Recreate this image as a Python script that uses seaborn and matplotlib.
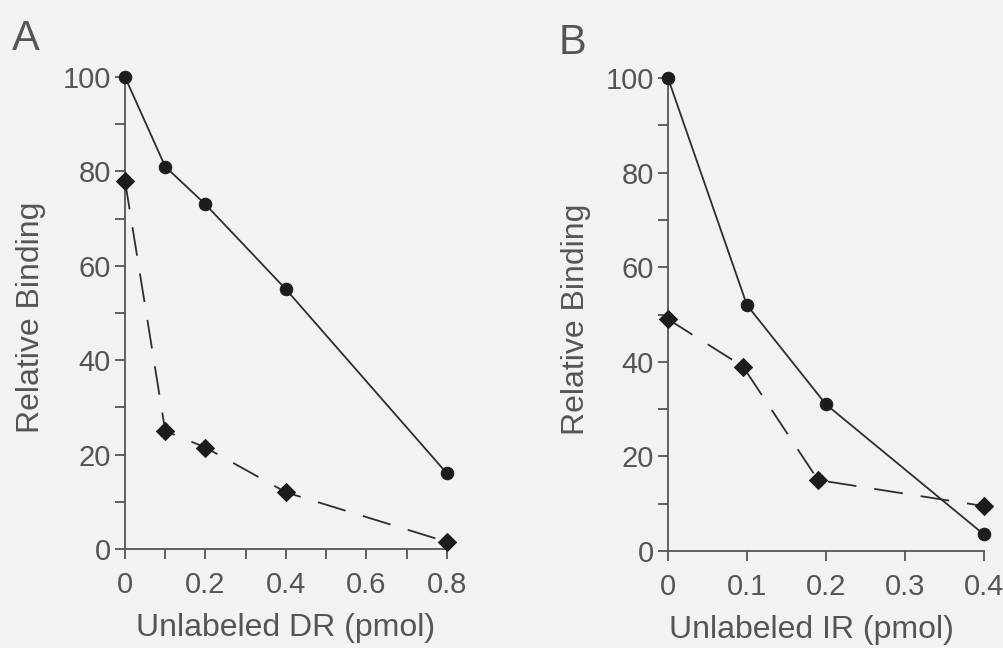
import numpy as np
import pandas as pd
import matplotlib
matplotlib.use("Agg")
import matplotlib.pyplot as plt
from matplotlib.ticker import MultipleLocator
import seaborn as sns

# ── Data ───────────────────────────────────────────────────
dr_dose     = [0, 0.1, 0.2, 0.4, 0.8]
dr_circle   = [100, 81, 73, 55, 16]
dr_diamond  = [78, 25, 21.5, 12, 1.5]

ir_dose_circle  = [0, 0.1, 0.2, 0.4]
ir_circle       = [100, 52, 31, 3.5]
ir_dose_diamond = [0, 0.095, 0.19, 0.4]
ir_diamond      = [49, 39, 15, 9.5]

# ── Style ──────────────────────────────────────────────────
sns.set_theme(style="ticks")
plt.rcParams["font.family"] = ["Liberation Sans", "DejaVu Sans"]

BG    = "#f3f2f1"
TEXT  = "#555555"
LINE  = "#2e2e2e"
MARK  = "#1c1c1c"

fig = plt.figure(figsize=(10.04, 6.48), dpi=100, facecolor=BG)
ax_a = fig.add_axes([0.1245, 0.1528, 0.3207, 0.7284])
ax_b = fig.add_axes([0.6653, 0.1497, 0.3147, 0.7299])


def draw_series(ax, x, y, marker, size, dashed):
    df = pd.DataFrame({"x": x, "y": y})
    kw = dict(linestyle=(0, (16, 10))) if dashed else dict(linestyle="-")
    sns.lineplot(data=df, x="x", y="y", ax=ax, sort=False, color=LINE,
                 linewidth=1.3, marker=marker, markersize=size,
                 markerfacecolor=MARK, markeredgecolor=MARK,
                 clip_on=False, zorder=3, **kw)


def style_axes(ax, xmax, xmajor, xminor, xlabel, xlabel_x):
    ax.set_facecolor(BG)
    ax.set_xlim(0, xmax)
    ax.set_ylim(0, 100)
    sns.despine(ax=ax)
    for s in ("left", "bottom"):
        ax.spines[s].set_color(TEXT)
        ax.spines[s].set_linewidth(1.3)
    ax.xaxis.set_major_locator(MultipleLocator(xmajor))
    ax.xaxis.set_minor_locator(MultipleLocator(xminor))
    ax.yaxis.set_major_locator(MultipleLocator(20))
    ax.yaxis.set_minor_locator(MultipleLocator(10))
    ax.xaxis.set_major_formatter(plt.FuncFormatter(lambda v, p: f"{v:g}"))
    ax.tick_params(which="both", direction="out", length=7, width=1.3,
                   color=TEXT, labelcolor=TEXT, labelsize=21)
    ax.tick_params(axis="y", pad=3)
    ax.tick_params(axis="x", pad=9)
    ax.set_xlabel(xlabel, fontsize=23, color=TEXT)
    ax.set_ylabel("Relative Binding", fontsize=23, color=TEXT)
    ax.xaxis.set_label_coords(xlabel_x, -0.136)
    ax.yaxis.set_label_coords(-0.245, 0.49)


# ── Panel A ────────────────────────────────────────────────
draw_series(ax_a, dr_dose, dr_circle, "o", 9, False)
draw_series(ax_a, dr_dose, dr_diamond, "D", 9.5, True)
style_axes(ax_a, 0.8, 0.2, 0.1, "Unlabeled DR (pmol)", 0.5)

# ── Panel B ────────────────────────────────────────────────
draw_series(ax_b, ir_dose_circle, ir_circle, "o", 9, False)
draw_series(ax_b, ir_dose_diamond, ir_diamond, "D", 9.5, True)
style_axes(ax_b, 0.4, 0.1, 0.1, "Unlabeled IR (pmol)", 0.455)

fig.text(0.012, 0.97, "A", fontsize=30, color=TEXT, va="top", ha="left")
fig.text(0.556, 0.965, "B", fontsize=30, color=TEXT, va="top", ha="left")

fig.savefig("out.png", dpi=100, facecolor=BG)
